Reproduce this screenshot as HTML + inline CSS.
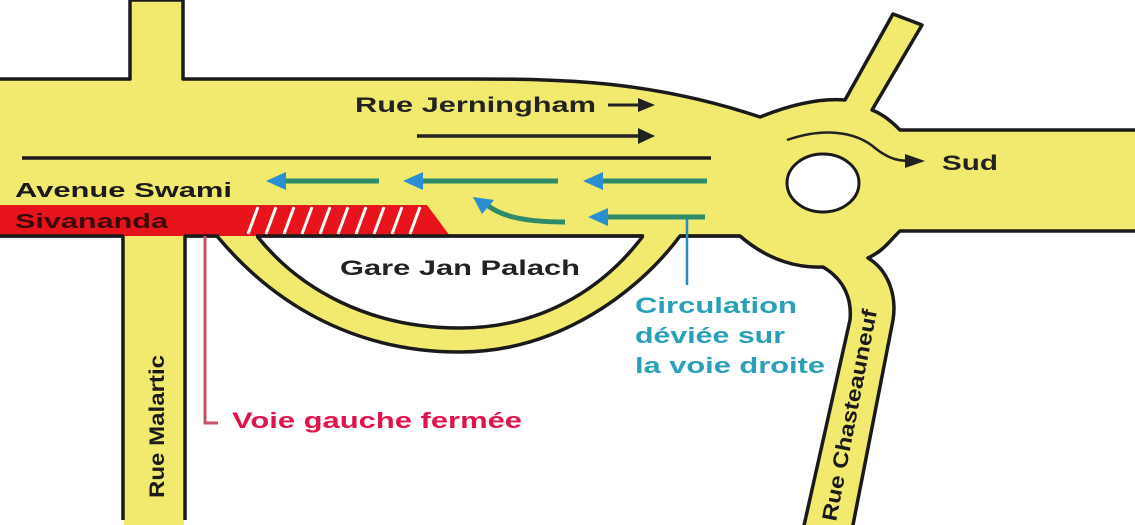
<!DOCTYPE html>
<html><head><meta charset="utf-8"><style>
html,body{margin:0;padding:0;background:#fff;}
svg{display:block;}
text{font-family:"Liberation Sans",sans-serif;font-weight:bold;}
</style></head><body>
<svg width="1135" height="525" viewBox="0 0 1135 525" xmlns="http://www.w3.org/2000/svg">
<g fill="#f1ea6f" stroke="#1a1a1a" stroke-width="3.5" stroke-linejoin="round">
<path d="M-5,79 L130,79 L130,0 L183,0 L183,79 L470,79 C560,79 650,80 760,117 C790,105 820,98 845,100 L893,14 L922,25 L872,110 C885,115 895,125 900,130 L1140,130 L1140,231 L900,231 C890,240 885,250 868,258 C888,270 897,295 893,320 L852,530 L803,530 L850,320 C852,300 845,280 823,267 C800,268 770,262 740,236 L-5,236 Z"/>
</g>
<rect x="124" y="234" width="60" height="291" fill="#f1ea6f"/>
<path d="M123,236 L123,520 M185,520 L185,236" stroke="#1a1a1a" stroke-width="3.5" fill="none"/>
<path d="M217,234 C270,300 350,352 460,352 C560,352 640,290 680,234 L643,234 C610,280 550,328 460,328 C370,328 300,290 257,234 Z" fill="#f1ea6f"/>
<path d="M217,236 C270,300 350,352 460,352 C560,352 640,290 680,236 M643,236 C610,280 550,328 460,328 C370,328 300,290 257,236" stroke="#1a1a1a" stroke-width="3.5" fill="none"/>
<ellipse cx="823" cy="183" rx="36" ry="29" fill="#fff" stroke="#1a1a1a" stroke-width="3"/>
<path d="M0,205 L427,205 L450,236 L0,236 Z" fill="#e8141b"/>
<g stroke="#fff" stroke-width="3">
<line x1="248" y1="234" x2="258" y2="207"/><line x1="266" y1="234" x2="276" y2="207"/><line x1="284" y1="234" x2="294" y2="207"/><line x1="302" y1="234" x2="312" y2="207"/><line x1="320" y1="234" x2="330" y2="207"/><line x1="338" y1="234" x2="348" y2="207"/><line x1="356" y1="234" x2="366" y2="207"/><line x1="374" y1="234" x2="384" y2="207"/><line x1="392" y1="234" x2="402" y2="207"/><line x1="410" y1="234" x2="420" y2="207"/>
</g>
<path d="M0,236 L124,236 M184,236 L219,236 M256,236 L644,236 M679,236 L740,236" stroke="#1a1a1a" stroke-width="3.5" fill="none"/>
<line x1="22" y1="158" x2="711" y2="158" stroke="#1a1a1a" stroke-width="3.5"/>
<line x1="608" y1="105" x2="640" y2="105" stroke="#222" stroke-width="3"/>
<path d="M638,98 L655,105 L638,112z" fill="#222"/>
<line x1="417" y1="136" x2="640" y2="136" stroke="#222" stroke-width="3.5"/>
<path d="M638,128 L655,136 L638,144z" fill="#222"/>
<g stroke="#2f8a6a" stroke-width="5" fill="none">
<line x1="282" y1="181" x2="379" y2="181"/><line x1="418" y1="181" x2="558" y2="181"/><line x1="598" y1="181" x2="707" y2="181"/>
<line x1="604" y1="217" x2="705" y2="217"/>
<path d="M565,222 C520,222 500,215 487,205"/>
</g>
<g fill="#2a8ed0">
<path d="M266,181 L286,172 L286,190z"/><path d="M403,181 L423,172 L423,190z"/><path d="M583,181 L603,172 L603,190z"/><path d="M588,217 L608,208 L608,226z"/><path d="M473,197 L494,200 L482,214z"/>
</g>
<line x1="687" y1="218" x2="687" y2="285" stroke="#1f8fc0" stroke-width="2.5"/>
<path d="M205,236 L205,423 L218,423" stroke="#c8506a" stroke-width="3" fill="none"/>
<path d="M787,140 C830,125 860,135 875,148 C890,160 900,161 912,161" stroke="#222" stroke-width="2.5" fill="none"/>
<path d="M905,154 L925,161 L905,168z" fill="#222"/>
<text x="355" y="112" font-size="21" fill="#222" textLength="241" lengthAdjust="spacingAndGlyphs">Rue Jerningham</text>
<text x="15" y="197" font-size="20" fill="#1a1a1a" textLength="217" lengthAdjust="spacingAndGlyphs">Avenue Swami</text>
<text x="15" y="228" font-size="20" fill="#3a0a0a" textLength="153" lengthAdjust="spacingAndGlyphs">Sivananda</text>
<text x="340" y="275" font-size="21" fill="#222" textLength="240" lengthAdjust="spacingAndGlyphs">Gare Jan Palach</text>
<text x="942" y="170" font-size="21" fill="#222" textLength="56" lengthAdjust="spacingAndGlyphs">Sud</text>
<g font-size="22" fill="#2aa0b8">
<text x="635" y="313" textLength="162" lengthAdjust="spacingAndGlyphs">Circulation</text>
<text x="635" y="343" textLength="150" lengthAdjust="spacingAndGlyphs">déviée sur</text>
<text x="635" y="373" textLength="190" lengthAdjust="spacingAndGlyphs">la voie droite</text>
</g>
<text x="232" y="428" font-size="22" fill="#e0144a" textLength="290" lengthAdjust="spacingAndGlyphs">Voie gauche fermée</text>
<text transform="translate(164,498) rotate(-90)" font-size="21" fill="#1a1a1a" textLength="143" lengthAdjust="spacingAndGlyphs">Rue Malartic</text>
<text transform="translate(836,522) rotate(-79)" font-size="21" fill="#1a1a1a" textLength="215" lengthAdjust="spacingAndGlyphs">Rue Chasteauneuf</text>
</svg>
</body></html>
